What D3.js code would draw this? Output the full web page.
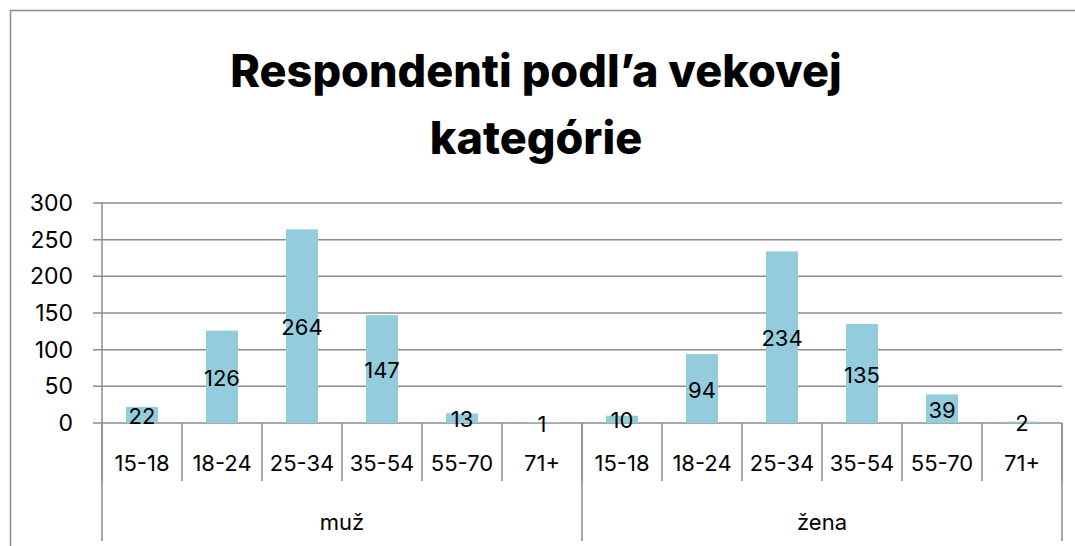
<!DOCTYPE html>
<meta charset="utf-8">
<script src="https://cdn.jsdelivr.net/npm/d3@7"></script>
<style>
  body { margin: 0; background: #fff; }
  text { font-family: Inter, "Noto Sans", sans-serif; fill: #000; }
</style>
<div id="chart"></div>
<script>
// data
var groups = ["muž", "žena"];
var ageGroups = ["15-18", "18-24", "25-34", "35-54", "55-70", "71+"];
var muzValues = [22, 126, 264, 147, 13, 1];
var zenaValues = [10, 94, 234, 135, 39, 2];
var yTicks = [0, 50, 100, 150, 200, 250, 300];
var titleLines = ["Respondenti podl’a vekovej", "kategórie"];

var W = 1075, H = 546;
var margin = {top: 203, left: 102, right: 13, bottom: 123};
var width = W - margin.left - margin.right,
    height = H - margin.top - margin.bottom;

// flatten into rows
var rows = [];
groups.forEach(function(g, gi) {
  var vals = gi == 0 ? muzValues : zenaValues;
  ageGroups.forEach(function(a, i) {
    rows.push({key: g + "|" + a, group: g, age: a, value: vals[i]});
  });
});

var svg = d3.select("#chart").append("svg")
  .attr("width", W).attr("height", H);

// outer chart border
svg.append("rect")
  .attr("x", 10.5).attr("y", 10.5)
  .attr("width", W + 10).attr("height", H + 10)
  .attr("fill", "none").attr("stroke", "#8c8c8c").attr("stroke-width", 1.5);

// title
svg.selectAll(".title").data(titleLines).enter().append("text")
  .attr("class", "title")
  .attr("x", 536).attr("y", function(d, i) { return 70 + i * 67; })
  .attr("text-anchor", "middle").attr("dominant-baseline", "central")
  .style("font-size", "45px").style("font-weight", "800")
  .text(function(d) { return d; });

var g = svg.append("g")
  .attr("transform", "translate(" + margin.left + "," + margin.top + ")");

var x = d3.scaleBand()
  .domain(rows.map(function(d) { return d.key; }))
  .range([0, width])
  .paddingInner(0.6).paddingOuter(0.3);

var xCell = d3.scaleBand()
  .domain(rows.map(function(d) { return d.key; }))
  .range([0, width]);

var xGroup = d3.scaleBand().domain(groups).range([0, width]);

var y = d3.scaleLinear().domain([0, 300]).range([height, 0]);

// gridlines
g.selectAll(".grid").data(yTicks).enter().append("line")
  .attr("x1", -9).attr("x2", width)
  .attr("y1", function(d) { return y(d); }).attr("y2", function(d) { return y(d); })
  .attr("stroke", "#8c8c8c").attr("stroke-width", 1.5);

// y axis line
g.append("line")
  .attr("x1", 0).attr("x2", 0).attr("y1", 0).attr("y2", height)
  .attr("stroke", "#8c8c8c").attr("stroke-width", 1.5);

// y tick labels
g.selectAll(".ylab").data(yTicks).enter().append("text")
  .attr("x", -29).attr("y", function(d) { return y(d); })
  .attr("text-anchor", "end").attr("dominant-baseline", "central")
  .style("font-size", "23px")
  .text(function(d) { return d; });

// bars
g.selectAll(".bar").data(rows).enter().append("rect")
  .attr("x", function(d) { return x(d.key); })
  .attr("y", function(d) { return y(d.value); })
  .attr("width", x.bandwidth())
  .attr("height", function(d) { return y(0) - y(d.value); })
  .attr("fill", "#93cddd");

// data labels
g.selectAll(".val").data(rows).enter().append("text")
  .attr("x", function(d) { return x(d.key) + x.bandwidth() / 2; })
  .attr("y", function(d) { return (y(d.value) + y(0)) / 2 + 1; })
  .attr("text-anchor", "middle").attr("dominant-baseline", "central")
  .style("font-size", "22px")
  .text(function(d) { return d.value; });

// category dividers (first level)
var cellEdges = rows.map(function(d) { return xCell(d.key); }).concat([width]);
g.selectAll(".cdiv").data(cellEdges).enter().append("line")
  .attr("x1", function(d) { return d; }).attr("x2", function(d) { return d; })
  .attr("y1", height).attr("y2", height + 58)
  .attr("stroke", "#8c8c8c").attr("stroke-width", 1.5);

// group dividers (second level)
var groupEdges = groups.map(function(d) { return xGroup(d); }).concat([width]);
g.selectAll(".gdiv").data(groupEdges).enter().append("line")
  .attr("x1", function(d) { return d; }).attr("x2", function(d) { return d; })
  .attr("y1", height).attr("y2", height + 118)
  .attr("stroke", "#8c8c8c").attr("stroke-width", 1.5);

// category labels
g.selectAll(".clab").data(rows).enter().append("text")
  .attr("x", function(d) { return xCell(d.key) + xCell.bandwidth() / 2; })
  .attr("y", height + 40)
  .attr("text-anchor", "middle").attr("dominant-baseline", "central")
  .style("font-size", "22px")
  .text(function(d) { return d.age; });

// group labels
g.selectAll(".glab").data(groups).enter().append("text")
  .attr("x", function(d) { return xGroup(d) + xGroup.bandwidth() / 2; })
  .attr("y", height + 99)
  .attr("text-anchor", "middle").attr("dominant-baseline", "central")
  .style("font-size", "22px")
  .text(function(d) { return d; });
</script>
